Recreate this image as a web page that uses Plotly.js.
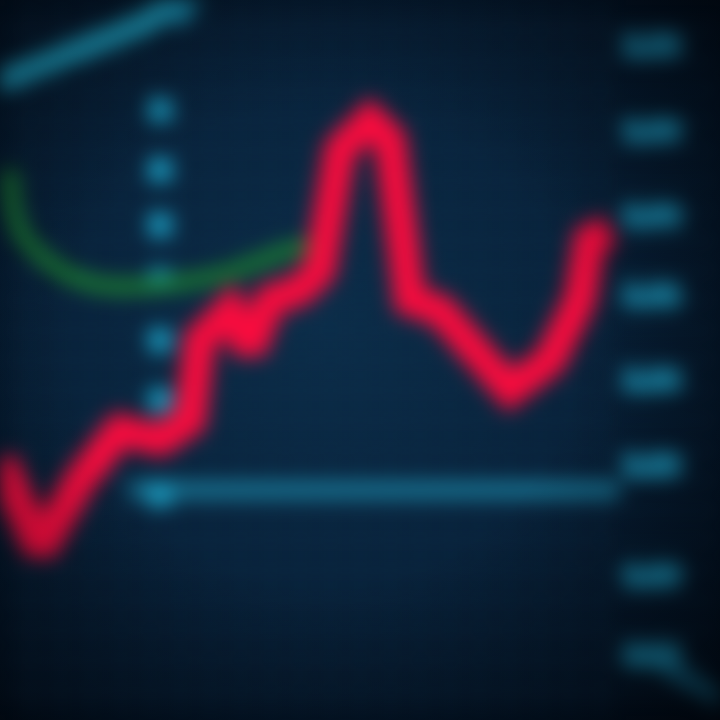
<!DOCTYPE html>
<html>
<head>
<meta charset="utf-8">
<script src="https://cdn.plot.ly/plotly-3.0.1.min.js"></script>
<style>
html,body{margin:0;padding:0;width:720px;height:720px;overflow:hidden;background:#05182a;}
#wrap{position:relative;width:720px;height:720px;background:radial-gradient(ellipse at 45% 45%, #0a2c48 0%, #072038 45%, #031222 80%, #020a14 100%);}
#chart{position:absolute;left:0;top:0;width:720px;height:720px;filter:blur(10px);}
#chart .ytick text{stroke:#1b8fb2;stroke-width:9px;stroke-linejoin:round;}
#vig{position:absolute;left:0;top:0;width:720px;height:720px;pointer-events:none;background:radial-gradient(ellipse at 45% 48%, rgba(0,0,0,0) 45%, rgba(0,4,10,0.45) 85%, rgba(0,4,10,0.7) 100%);}
</style>
</head>
<body>
<div id="wrap"><div id="chart"></div><div id="vig"></div></div>
<script>
// Price series (time index, price level)
const priceTime  = [0,4,8,12,16,19,20,23,25,27,30,32,34,37,39,40,41,44,47,51,55,58,59,61];
const priceValue = [26,17,24,29,28,30,38,41,37,42,43,45,57,60,58,52,42,41,37,33,36,42,48,49];

// Moving average (green)
const maTime  = [1,2,6,10,16,22,29,31];
const maValue = [55,49,45,43.5,43.5,44.5,47,47.5];

// Cyan guide elements
const trendTime  = [-1,8,14,20];
const trendValue = [63.5,67,69.5,73];
const markerTime  = [16,16,16,16,16,16,16,18];
const markerValue = [61,55,49.5,44,38,32,22.5,71];
const supportTime  = [13,62];
const supportValue = [23,23];
const lowerTime  = [64,73];
const lowerValue = [7,1.5];

// Right-side price labels
const tickValues = [67.5,59,50.5,42.5,34,25.5,14.5,6.5];
const tickLabels = ["1.38","1.36","1.34","1.32","1.30","1.28","1.26","1.24"];

const cyan = "#1a9cc0";
const traces = [
  {x:trendTime,y:trendValue,mode:"lines",line:{color:"#1fa6c6",width:22},hoverinfo:"skip"},
  {x:supportTime,y:supportValue,mode:"lines",line:{color:"#17708f",width:18},hoverinfo:"skip"},
  {x:lowerTime,y:lowerValue,mode:"lines",line:{color:"#15789a",width:16},hoverinfo:"skip"},
  {x:markerTime,y:markerValue,mode:"markers",marker:{color:cyan,size:26},hoverinfo:"skip"},
  {x:maTime,y:maValue,mode:"lines",line:{color:"#1c8030",width:14,shape:"spline"},hoverinfo:"skip"},
  {x:priceTime,y:priceValue,mode:"lines",line:{color:"#f80c3e",width:32},hoverinfo:"skip"}
];

const layout = {
  width:720,height:720,
  margin:{l:0,r:0,t:0,b:0},
  paper_bgcolor:"rgba(0,0,0,0)",
  plot_bgcolor:"rgba(0,0,0,0)",
  showlegend:false,
  xaxis:{range:[0,72],showgrid:true,gridcolor:"#133552",gridwidth:3,dtick:3,zeroline:false,showticklabels:false,fixedrange:true},
  yaxis:{range:[0,72],side:"right",tickmode:"array",tickvals:tickValues,ticktext:tickLabels,
         ticklabelposition:"inside",ticklabelstandoff:38,showgrid:false,zeroline:false,ticks:"",
         tickfont:{family:"DejaVu Sans",size:22,color:"#1b95b8",weight:"bold"},
         minor:{dtick:3,showgrid:true,gridcolor:"#133552",gridwidth:3},fixedrange:true}
};
Plotly.newPlot("chart",traces,layout,{staticPlot:true,displayModeBar:false});
</script>
</body>
</html>
